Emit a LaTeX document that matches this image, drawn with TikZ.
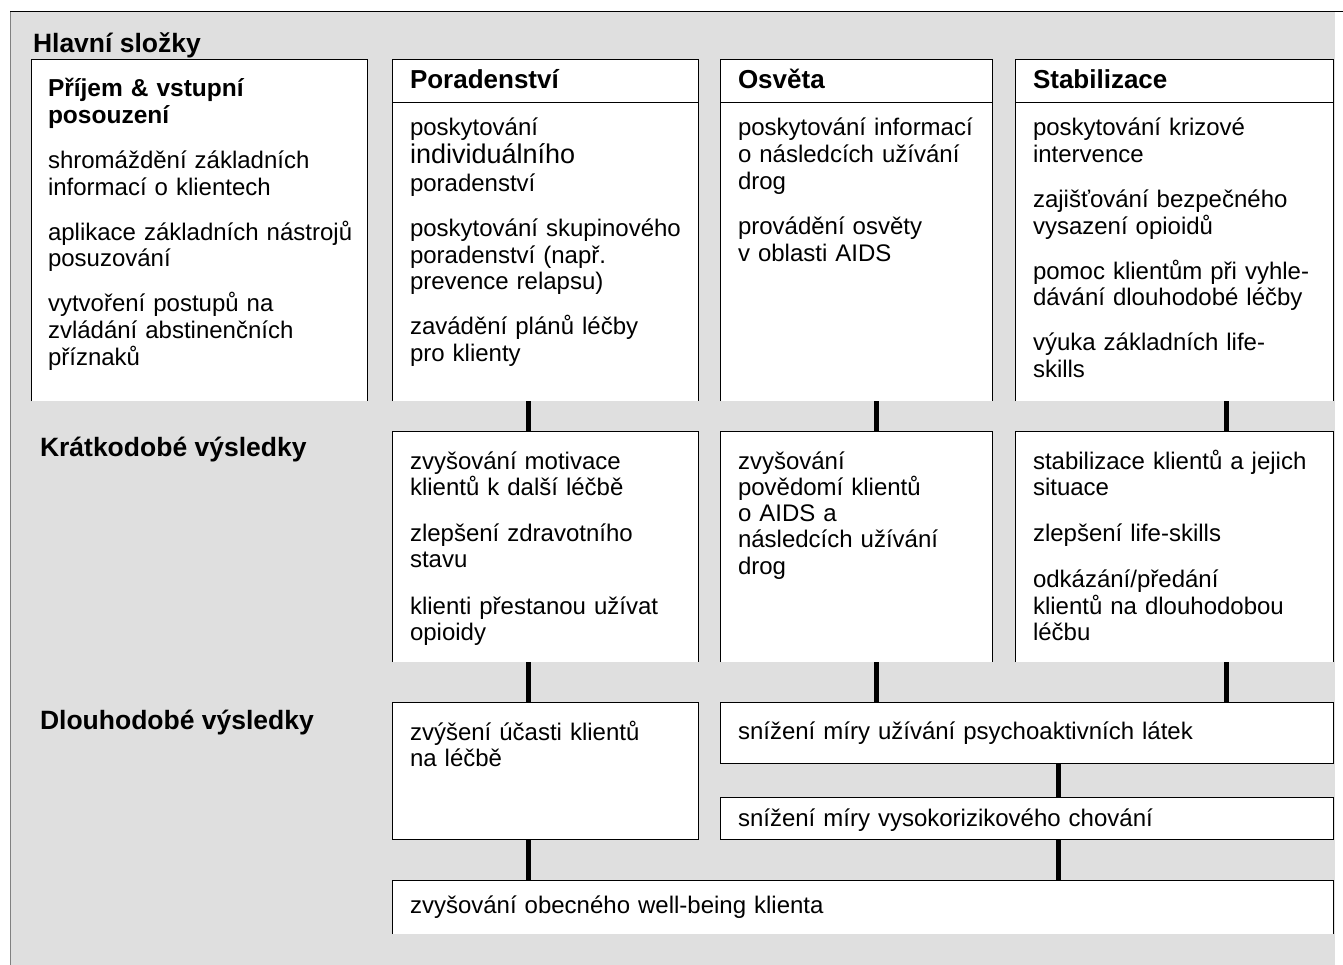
\documentclass[tikz,border=0pt]{standalone}
\usepackage{fontspec}
\setmainfont{Liberation Sans}
\usetikzlibrary{calc}
\definecolor{bgc}{HTML}{DFDFDF}
\definecolor{leftc}{HTML}{808080}
\begin{document}
\begin{tikzpicture}[x=1pt,y=-1pt,
  box/.style={anchor=north west,fill=white,draw=none,inner sep=0pt,outer sep=0pt},
  txt/.style={anchor=base west,inner sep=0pt,outer sep=0pt,text width=620pt,align=left,font=\fontsize{24}{26.3}\selectfont},
  txtA/.style={txt,font=\fontsize{24}{26.8}\selectfont},
  hdr/.style={anchor=base west,inner sep=0pt,outer sep=0pt,font=\bfseries\fontsize{26}{30}\selectfont},
  lbl/.style={anchor=base west,inner sep=0pt,outer sep=0pt,font=\bfseries\fontsize{26.5}{30}\selectfont},
  conn/.style={line width=5pt},
  edgeline/.style={line width=1pt}]

\useasboundingbox (0,0) rectangle (1343,965);
\fill[bgc] (10,12) rectangle (1335,965);
\draw[edgeline] (10,12) -- (1343,12);
\draw[line width=1pt, leftc] (10,12) -- (10,965);

% connector x positions
\coordinate (x1) at (528,0);
\coordinate (x2) at (876,0);
\coordinate (x3) at (1226,0);
\coordinate (x4) at (1058,0);

% row 1
\node[box,minimum width=336pt,minimum height=341pt] (ba) at (31,60) {};
\node[box,minimum width=306pt,minimum height=341pt] (bb) at (392,60) {};
\node[box,minimum width=272pt,minimum height=341pt] (bc) at (720,60) {};
\node[box,minimum width=318pt,minimum height=341pt] (bd) at (1015,60) {};
% row 2
\node[box,minimum width=306pt,minimum height=231pt] (kb) at (392,431) {};
\node[box,minimum width=272pt,minimum height=231pt] (kc) at (720,431) {};
\node[box,minimum width=318pt,minimum height=231pt] (kd) at (1015,431) {};
% row 3
\node[box,minimum width=306pt,minimum height=137pt] (db) at (392,702) {};
\node[box,minimum width=613pt,minimum height=61pt] (dc1) at (720,702) {};
\node[box,minimum width=613pt,minimum height=42pt] (dc2) at (720,797) {};
% row 4
\node[box,minimum width=941pt,minimum height=54pt] (wb) at (392,880) {};

% borders (open at bottom)
\foreach \n in {ba,bb,bc,bd,kb,kc,kd,wb}{
  \draw[edgeline] (\n.south west) -- (\n.north west) -- (\n.north east) -- (\n.south east);
}
\foreach \n in {db,dc1,dc2}{
  \draw[edgeline] (\n.south west) rectangle (\n.north east);
}
% header rules
\foreach \n in {bb,bc,bd}{
  \draw[edgeline] ($(\n.north west)+(0,43)$) -- ($(\n.north east)+(0,43)$);
}

% connectors
\draw[conn] (bb.south -| x1) -- (kb.north -| x1);
\draw[conn] (bc.south -| x2) -- (kc.north -| x2);
\draw[conn] (bd.south -| x3) -- (kd.north -| x3);
\draw[conn] (kb.south -| x1) -- (db.north -| x1);
\draw[conn] (kc.south -| x2) -- (dc1.north -| x2);
\draw[conn] (kd.south -| x3) -- (dc1.north -| x3);
\draw[conn] (dc1.south -| x4) -- (dc2.north -| x4);
\draw[conn] (db.south -| x1) -- (wb.north -| x1);
\draw[conn] (dc2.south -| x4) -- (wb.north -| x4);

% labels
\node[lbl] (l1) at (33,53) {Hlavní složky};
\node[lbl] (l2) at (40,456) {Krátkodobé výsledky};
\node[lbl] (l3) at (40,729) {Dlouhodobé výsledky};

% headers
\node[hdr] (hB) at (410,89) {Poradenství};
\node[hdr] (hC) at (738,89) {Osvěta};
\node[hdr] (hD) at (1033,89) {Stabilizace};

% row 1 texts
\node[txtA] (ta) at (48,97) {{\bfseries\fontsize{24.5}{26.8}\selectfont Příjem \& vstupní\\posouzení}\\[18pt]shromáždění základních\\informací o klientech\\[18pt]aplikace základních nástrojů\\posuzování\\[18pt]vytvoření postupů na\\zvládání abstinenčních\\příznaků};
\node[txtA] (tb) at (410,136) {poskytování\\[1pt]{\fontsize{27}{26.8}\selectfont individuálního}\\[1pt]poradenství\\[18pt]poskytování skupinového\\poradenství (např.\\prevence relapsu)\\[18pt]zavádění plánů léčby\\pro klienty};
\node[txtA] (tc) at (738,136) {poskytování informací\\o následcích užívání\\drog\\[18pt]provádění osvěty\\v oblasti AIDS};
\node[txtA] (td) at (1033,136) {poskytování krizové\\intervence\\[18pt]zajišťování bezpečného\\vysazení opioidů\\[18pt]pomoc klientům při vyhle-\\dávání dlouhodobé léčby\\[18pt]výuka základních life-\\skills};

% row 2 texts
\node[txt] (kbt) at (410,469) {zvyšování motivace\\klientů k další léčbě\\[20pt]zlepšení zdravotního\\stavu\\[20pt]klienti přestanou užívat\\opioidy};
\node[txt] (kct) at (738,469) {zvyšování\\povědomí klientů\\o AIDS a\\následcích užívání\\drog};
\node[txt] (kdt) at (1033,469) {stabilizace klientů a jejich\\situace\\[20pt]zlepšení life-skills\\[20pt]odkázání/předání\\klientů na dlouhodobou\\léčbu};

% row 3 and 4 texts
\node[txt] (dbt) at (410,740) {zvýšení účasti klientů\\na léčbě};
\node[txt] (dc1t) at (738,739) {snížení míry užívání psychoaktivních látek};
\node[txt] (dc2t) at (738,826) {snížení míry vysokorizikového chování};
\node[txt] (wbt) at (410,913) {zvyšování obecného well-being klienta};
\end{tikzpicture}
\end{document}
